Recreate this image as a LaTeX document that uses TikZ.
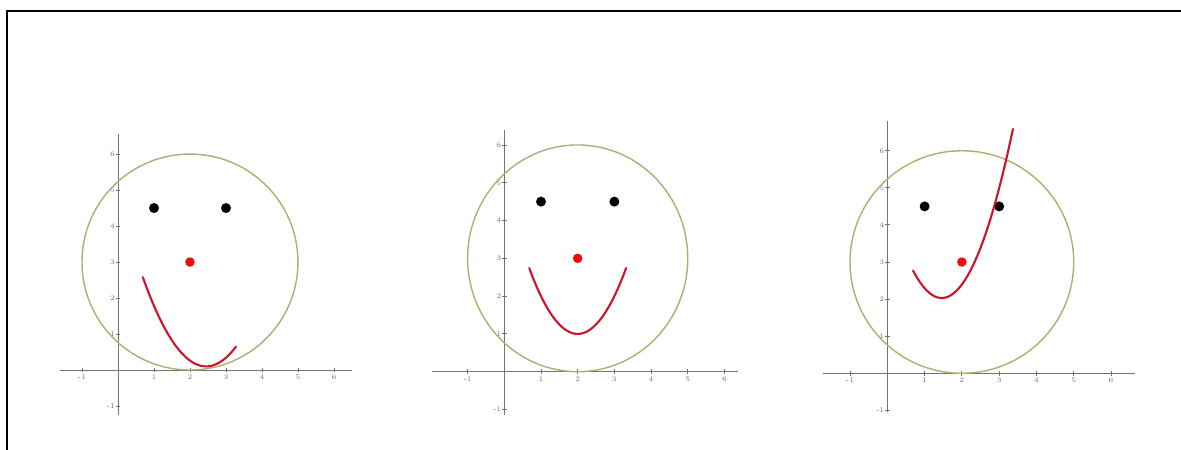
\documentclass[tikz,border=0pt]{standalone}
\definecolor{facecirc}{RGB}{176,174,112}
\definecolor{mouthred}{RGB}{205,20,45}
\definecolor{nosered}{RGB}{240,10,10}
\definecolor{axgray}{RGB}{115,115,115}
\tikzset{
  axisline/.style={draw=axgray, line width=0.5pt},
  ticklab/.style={text=axgray, font=\fontsize{4}{4}\selectfont, inner sep=0.4pt},
  facering/.style={draw=facecirc, line width=0.8pt},
  mouth/.style={draw=mouthred, line width=1.2pt, line cap=round},
  eye/.style={circle, fill=black, minimum size=0.2cm, inner sep=0pt},
  nose/.style={circle, fill=nosered, minimum size=0.19cm, inner sep=0pt},
  frameline/.style={draw=black, line width=1.1pt},
}
\newcommand{\panelaxes}[4]{%
  \draw[axisline] (#1,0) -- (#2,0);
  \draw[axisline] (0,#3) -- (0,#4);
  \foreach \t in {-1,1,2,3,4,5,6}{
    \draw[axisline] ([yshift=-1.4pt]\t,0) -- ([yshift=1.4pt]\t,0);
    \node[ticklab, below=2.2pt] (xl\t) at (\t,0) {\t};
    \draw[axisline] ([xshift=-1.4pt]0,\t) -- ([xshift=1.4pt]0,\t);
    \node[ticklab, left=1.2pt] (yl\t) at (0,\t) {\t};
  }
}
\newcommand{\panelface}{%
  \draw[facering] (2,3) ellipse [x radius=3, y radius=3];
  \node[eye] (lefteye) at (1,4.5) {};
  \node[eye] (righteye) at (3,4.5) {};
  \node[nose] (nosedot) at (2,3) {};
}
\begin{document}
\begin{tikzpicture}[x=0.02cm, y=-0.02cm]
\useasboundingbox (0,0) rectangle (1181,450);
\fill[white] (0,0) rectangle (1181,450);
\coordinate (frameBL) at (7,452);
\coordinate (frameTL) at (7,11);
\coordinate (frameTR) at (1183,11);
\draw[frameline] (frameBL) -- (frameTL) -- (frameTR);

% panel 1
\begin{scope}[shift={(118,370)}, x=0.72cm, y=0.72cm, name prefix=pa-]
  \panelaxes{-1.61}{6.49}{-1.25}{6.56}
  \panelface
  \draw[mouth] plot[domain=0.69:3.28, samples=60] (\x, {0.8*(\x-2.45)^2+0.1});
\end{scope}

% panel 2
\begin{scope}[shift={(504.3,371.7)}, x=0.734cm, y=0.756cm, name prefix=pb-]
  \panelaxes{-1.98}{6.38}{-1.15}{6.39}
  \panelface
  \draw[mouth] plot[domain=0.68:3.32, samples=60] (\x, {(\x-2)^2+1});
\end{scope}

% panel 3
\begin{scope}[shift={(887.3,373.3)}, x=0.746cm, y=0.742cm, name prefix=pc-]
  \panelaxes{-1.72}{6.64}{-1.03}{6.8}
  \panelface
  \draw[mouth] plot[domain=0.69:3.37, samples=60] (\x, {1.25*(\x-1.46)^2+2.03});
\end{scope}
\end{tikzpicture}
\end{document}
